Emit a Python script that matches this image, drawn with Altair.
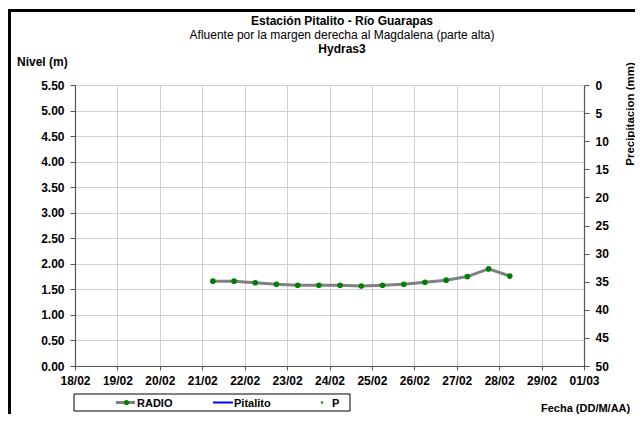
import altair as alt
import pandas as pd

# ---- data ----
radio_times = [
    "2012-02-21T06:00:00Z", "2012-02-21T18:00:00Z",
    "2012-02-22T06:00:00Z", "2012-02-22T18:00:00Z",
    "2012-02-23T06:00:00Z", "2012-02-23T18:00:00Z",
    "2012-02-24T06:00:00Z", "2012-02-24T18:00:00Z",
    "2012-02-25T06:00:00Z", "2012-02-25T18:00:00Z",
    "2012-02-26T06:00:00Z", "2012-02-26T18:00:00Z",
    "2012-02-27T06:00:00Z", "2012-02-27T18:00:00Z",
    "2012-02-28T06:00:00Z",
]
radio_levels = [1.66, 1.66, 1.63, 1.60, 1.58, 1.58, 1.58, 1.565, 1.58, 1.60,
                1.64, 1.68, 1.75, 1.90, 1.76]
day_ticks = [(2012, 2, d) for d in range(18, 30)] + [(2012, 3, 1)]
level_ticks = [0, 0.5, 1.0, 1.5, 2.0, 2.5, 3.0, 3.5, 4.0, 4.5, 5.0, 5.5]
precip_ticks = [0, 5, 10, 15, 20, 25, 30, 35, 40, 45, 50]
precip_values = []  # no precipitation data in the period

title_main = "Estación Pitalito  - Río Guarapas"
title_sub = "Afluente por la margen derecha al Magdalena (parte alta)"
title_third = "Hydras3"
left_title = "Nivel (m)"
right_title = "Precipitacion (mm)"
x_title = "Fecha (DD/M/AA)"
legend_labels = ["RADIO", "Pitalito", "P"]

FONT = "Liberation Sans"

df = pd.DataFrame({"t": radio_times, "nivel": radio_levels})

tick_dates = [alt.DateTime(year=y, month=m, date=d, utc=True) for (y, m, d) in day_ticks]

axis_common = dict(
    domainColor="#555555", domainWidth=1.2, tickColor="#555555",
    labelFont=FONT, labelFontSize=12, labelFontWeight="bold",
    labelColor="#000000", labelFlush=False, title=None,
)

x_enc = alt.X(
    "t:T",
    scale=alt.Scale(type="utc", domain=[tick_dates[0], tick_dates[-1]]),
    axis=alt.Axis(
        values=tick_dates, labelExpr="utcFormat(datum.value, '%d/%m')",
        labelAlign="center",
        grid=True, gridColor="#cfcfcf", gridWidth=1,
        tickSize=4, labelPadding=5, **axis_common,
    ),
)
y_enc = alt.Y(
    "nivel:Q",
    scale=alt.Scale(domain=[0, 5.5], nice=False, zero=False),
    axis=alt.Axis(
        values=level_ticks, format=".2f",
        grid=True, gridColor="#cfcfcf", gridWidth=1,
        tickSize=5, labelPadding=6, **axis_common,
    ),
)

radio = alt.Chart(df).mark_line(
    color="#808080", strokeWidth=3,
    point=alt.OverlayMarkDef(filled=True, color="#008000", size=32, opacity=1),
).encode(x=x_enc, y=y_enc)

p_layer = alt.Chart(alt.Data(values=[{"P": v} for v in precip_values] or [{"P": None}])).mark_point(opacity=0).encode(
    y=alt.Y(
        "P:Q",
        scale=alt.Scale(domain=[0, 50], reverse=True, nice=False, zero=False),
        axis=alt.Axis(
            orient="right", values=precip_ticks, grid=False,
            tickSize=5, labelPadding=6, **axis_common,
        ),
    )
)

one = alt.Data(values=[{}])


def txt(s, x, y, weight="bold", align="left", size=11, angle=0, baseline="alphabetic"):
    return alt.Chart(one).mark_text(
        text=s, font=FONT, fontSize=size, fontWeight=weight, align=align,
        baseline=baseline, angle=angle, color="#000000",
    ).encode(x=alt.value(x), y=alt.value(y))


def rect(x, x2, y, y2, fill, stroke=None, sw=0):
    kw = dict(fill=fill, strokeWidth=sw)
    if stroke:
        kw["stroke"] = stroke
    return alt.Chart(one).mark_rect(**kw).encode(
        x=alt.value(x), x2=alt.value(x2), y=alt.value(y), y2=alt.value(y2))


def hrule(x, x2, y, color, w):
    return alt.Chart(one).mark_rule(color=color, strokeWidth=w).encode(
        x=alt.value(x), x2=alt.value(x2), y=alt.value(y))


# frame of the original picture
frame_left = rect(-70, -64, -76, 345, "#000000")
frame_top = rect(-70, 570, -76, -73, "#000000")

titles = [
    txt(title_main, 267, -60, align="center", size=12),
    txt(title_sub, 267, -46, weight="normal", align="center", size=12),
    txt(title_third, 267, -32, align="center", size=12),
    txt(left_title, -58, -19, size=12),
    txt(right_title, 556, 29, align="center", angle=270, baseline="middle", size=11.5),
    txt(x_title, 466, 327, size=11),
]

legend_box = rect(-1, 275, 309, 326, "#ffffff", stroke="#000000", sw=1)
leg_radio_line = hrule(41, 60, 317.5, "#808080", 3)
leg_radio_dot = alt.Chart(one).mark_circle(color="#008000", size=26, opacity=1).encode(
    x=alt.value(51.5), y=alt.value(317.5))
leg_pit_line = hrule(138, 158, 317.5, "#0000ff", 2)
leg_p_dot = rect(246, 248, 316.5, 318.5, "#008000")
leg_texts = [
    txt(legend_labels[0], 62, 321.5),
    txt(legend_labels[1], 159, 321.5),
    txt(legend_labels[2], 257, 321.5),
]

chart = alt.layer(
    radio, p_layer, frame_left, frame_top, *titles, legend_box, leg_radio_line,
    leg_radio_dot, leg_pit_line, leg_p_dot, *leg_texts,
).resolve_scale(y="independent").properties(
    width=509, height=281,
    padding={"left": 67, "top": 77, "right": 51, "bottom": 48},
    autosize=alt.AutoSizeParams(type="none"),
).configure_view(stroke=None).configure(background="#ffffff")

chart.save("out.html", embed_options={"renderer": "svg", "actions": False})
